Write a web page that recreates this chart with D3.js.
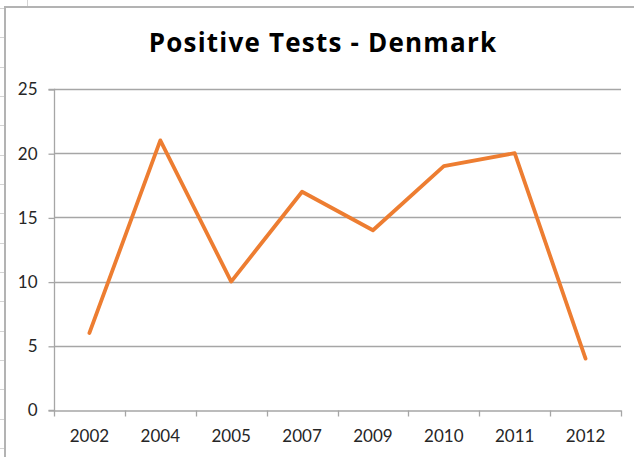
<!DOCTYPE html>
<html>
<head>
<meta charset="utf-8">
<script src="https://cdn.jsdelivr.net/npm/d3@7"></script>
<style>
  body { margin: 0; background: #fff; }
  text { font-family: Lato, "Open Sans", sans-serif; }
</style>
</head>
<body>
<div id="chart"></div>
<script>
// data
var years = ["2002", "2004", "2005", "2007", "2009", "2010", "2011", "2012"];
var positives = [6, 21, 10, 17, 14, 19, 20, 4];
var yTicks = [0, 5, 10, 15, 20, 25];

var width = 634,
  height = 457;

var svg = d3
  .select("#chart")
  .append("svg")
  .attr("width", width)
  .attr("height", height);

// spreadsheet row lines peeking out on the left
var rowLines = d3.range(16).map(function(i) { return 8 + i * 29.33; });
svg
  .selectAll(".rowLine")
  .data(rowLines)
  .enter()
  .append("line")
  .attr("x1", 0)
  .attr("x2", 5)
  .attr("y1", function(d) { return Math.round(d) + 0.5; })
  .attr("y2", function(d) { return Math.round(d) + 0.5; })
  .attr("stroke", "#d4d4d4");
svg
  .append("line")
  .attr("x1", 27.5)
  .attr("x2", 27.5)
  .attr("y1", 0)
  .attr("y2", 7)
  .attr("stroke", "#d4d4d4");

// chart frame (cut off on the right / bottom)
svg
  .append("path")
  .attr("d", "M5,460V7H640")
  .attr("fill", "none")
  .attr("stroke", "#b3b3b3")
  .attr("stroke-width", 2);

var plot = { left: 54, right: 621, top: 89, bottom: 410 };

var x = d3
  .scaleBand()
  .domain(years)
  .range([plot.left, plot.right]);

var y = d3
  .scaleLinear()
  .domain([0, 25])
  .range([plot.bottom, plot.top]);

// gridlines
svg
  .selectAll(".grid")
  .data(yTicks.slice(1))
  .enter()
  .append("line")
  .attr("x1", plot.left)
  .attr("x2", plot.right)
  .attr("y1", function(d) { return Math.round(y(d)) + 0.5; })
  .attr("y2", function(d) { return Math.round(y(d)) + 0.5; })
  .attr("stroke", "#a6a6a6")
  .attr("stroke-width", 1.3);

// y axis
var yAxis = svg
  .append("g")
  .attr("transform", "translate(" + (plot.left + 0.5) + ",0.5)")
  .call(d3.axisLeft(y).tickValues(yTicks).tickSize(6).tickPadding(11));

// x axis, ticks sit on the category boundaries
var xAxis = svg
  .append("g")
  .attr("transform", "translate(0," + (plot.bottom + 0.5) + ")")
  .call(d3.axisBottom(x).tickSize(0).tickPadding(19));

xAxis
  .selectAll(".boundary")
  .data(d3.range(years.length + 1))
  .enter()
  .append("line")
  .attr("class", "boundary")
  .attr("x1", function(i) { return Math.round(plot.left + i * x.step()) + 0.5; })
  .attr("x2", function(i) { return Math.round(plot.left + i * x.step()) + 0.5; })
  .attr("y1", 0)
  .attr("y2", 6)
  .attr("stroke", "#a6a6a6")
  .attr("stroke-width", 1.3);

[yAxis, xAxis].forEach(function(ax) {
  ax.select(".domain").attr("stroke", "#a6a6a6").attr("stroke-width", 1.3);
  ax.selectAll(".tick line").attr("stroke", "#a6a6a6").attr("stroke-width", 1.3);
  ax.selectAll("text")
    .attr("fill", "#262626")
    .style("font-size", "17px")
    .style("font-family", "Lato, 'Open Sans', sans-serif");
});
yAxis.select(".domain").attr("d", "M-6," + (plot.top) + "H0V" + plot.bottom + "H-6");

// line series
var line = d3
  .line()
  .x(function(d, i) { return x(years[i]) + x.bandwidth() / 2; })
  .y(function(d) { return y(d); });

svg
  .append("path")
  .datum(positives)
  .attr("fill", "none")
  .attr("stroke", "#ed7d31")
  .attr("stroke-width", 3.8)
  .attr("stroke-linejoin", "round")
  .attr("stroke-linecap", "round")
  .attr("d", line);

// title
svg
  .append("text")
  .attr("x", 323)
  .attr("y", 52)
  .attr("text-anchor", "middle")
  .style("font-size", "26px")
  .style("font-weight", "bold")
  .style("letter-spacing", "1.2px")
  .style("font-family", "'Open Sans', sans-serif")
  .attr("fill", "#000")
  .text("Positive Tests - Denmark");
</script>
</body>
</html>
